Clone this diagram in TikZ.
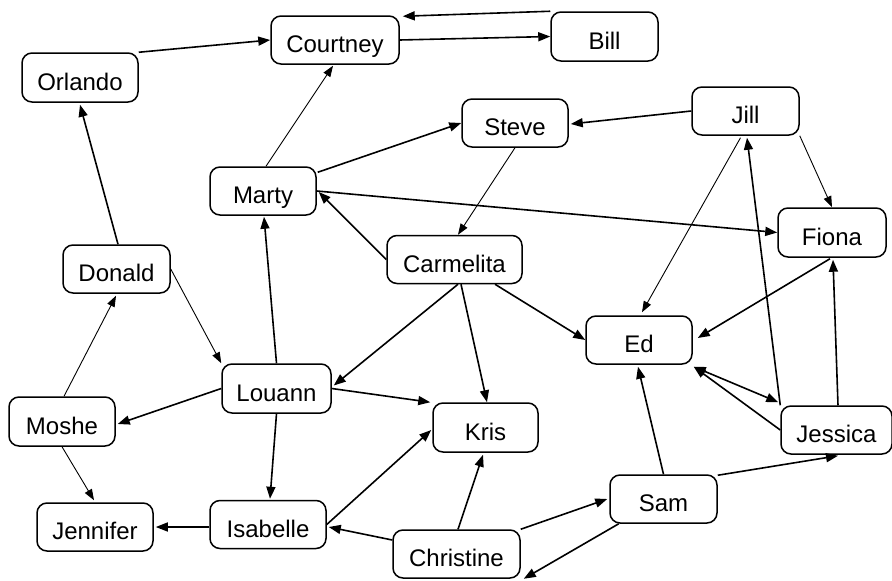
\documentclass[tikz,border=0pt]{standalone}
\usepackage{fontspec}
\setmainfont{Liberation Sans}
\usetikzlibrary{arrows.meta}
\tikzset{
  pbox/.style={draw, rounded corners=10pt, line width=1.5pt, inner sep=0pt,
    minimum height=48pt, text height=25pt, text depth=0pt,
    font=\fontsize{24}{24}\selectfont},
  thk/.style={line width=1.6pt, -{Triangle[length=12pt,width=9pt]}},
  thn/.style={line width=0.9pt, -{Triangle[length=11pt,width=8pt]}},
  dbl/.style={line width=1.6pt, {Triangle[length=12pt,width=9pt]}-{Triangle[length=12pt,width=9pt]}}
}
\begin{document}
\begin{tikzpicture}[x=1pt,y=-1pt]
\useasboundingbox (0,0) rectangle (892,581);
\node[pbox, minimum width=128pt] (cou) at (335,40) {Courtney};
\node[pbox, minimum width=107pt, minimum height=49pt] (bil) at (604.5,36.5) {Bill};
\node[pbox, minimum width=116pt, minimum height=49pt] (orl) at (80,77.5) {Orlando};
\node[pbox, minimum width=106pt] (mar) at (263,191) {Marty};
\node[pbox, minimum width=107pt] (don) at (116.5,269) {Donald};
\node[pbox, minimum width=106pt] (ste) at (515,123) {Steve};
\node[pbox, minimum width=107pt] (jil) at (745.5,111) {Jill};
\node[pbox, minimum width=108pt, minimum height=49pt] (fio) at (832,232.5) {Fiona};
\node[pbox, minimum width=135pt] (car) at (454.5,259.5) {Carmelita};
\node[pbox, minimum width=109pt, minimum height=49pt] (lou) at (276.5,388.5) {Louann};
\node[pbox, minimum width=106pt, minimum height=49pt] (mos) at (62,421.5) {Moshe};
\node[pbox, minimum width=116pt] (jen) at (95,527) {Jennifer};
\node[pbox, minimum width=116pt] (isa) at (268,524.5) {Isabelle};
\node[pbox, minimum width=105pt, minimum height=49pt] (kri) at (485.5,427.5) {Kris};
\node[pbox, minimum width=127pt] (chr) at (456.5,554) {Christine};
\node[pbox, minimum width=106pt] (ed) at (639,340) {Ed};
\node[pbox, minimum width=107pt] (sam) at (663.5,499) {Sam};
\node[pbox, minimum width=111pt] (jes) at (836.5,430) {Jessica};

\draw[thk] (orl.north east) -- (cou.west);
\draw[thk] (bil.north west) -- ([shift={(3,1)}]cou.north east);
\draw[thk] (cou.east) -- (bil.west);
\draw[thn] ([shift={(3,0)}]mar.north) -- ([shift={(-2,1)}]cou.south);
\draw[thk] ([shift={(1,6)}]mar.north east) -- (ste.west);
\draw[thk] (jil.west) -- ([shift={(2,1)}]ste.east);
\draw[thn] (ste.south) -- ([shift={(3.5,0)}]car.north);
\draw[thk] (car.west) -- ([shift={(2,1)}]mar.east);
\draw[thk] (mar.east) -- (fio.west);
\draw[thn] (jil.south east) -- (fio.north);
\draw[thn] ([shift={(-5,2)}]jil.south) -- ([shift={(3,-3)}]ed.north);
\draw[thk] (jes.north west) -- ([shift={(1.5,2)}]jil.south);
\draw[thk] ([shift={(1.5,0)}]jes.north) -- ([shift={(1,2)}]fio.south);
\draw[thk] ([shift={(-2,1)}]fio.south) -- ([shift={(5,-2)}]ed.east);
\draw[dbl] ([shift={(1,2)}]ed.south east) -- ([shift={(-2,-3)}]jes.north west);
\draw[thk] (jes.west) -- ([shift={(1,2)}]ed.south east);
\draw[thk] ([shift={(40.5,0)}]car.south) -- (ed.west);
\draw[thk] ([shift={(3.5,0)}]car.south) -- ([shift={(2,-3)}]lou.east);
\draw[thk] ([shift={(6.5,0)}]car.south) -- ([shift={(1.5,0)}]kri.north);
\draw[thk] (sam.north) -- ([shift={(-1,2)}]ed.south);
\draw[thk] ([shift={(0,1)}]sam.north east) -- ([shift={(1.5,1)}]jes.south);
\draw[thk] ([shift={(9.5,0)}]sam.south west) -- ([shift={(3,0)}]chr.south east);
\draw[thk] (chr.north east) -- ([shift={(-2,0)}]sam.west);
\draw[thk] ([shift={(1.5,0)}]chr.north) -- ([shift={(-2.5,2)}]kri.south);
\draw[thk] ([shift={(0,-14)}]chr.west) -- ([shift={(2,2.5)}]isa.east);
\draw[thk] (isa.east) -- ([shift={(-1,2.5)}]kri.west);
\draw[thk] (lou.east) -- ([shift={(-2,0)}]kri.north west);
\draw[thk] (lou.south) -- ([shift={(2,-1)}]isa.north);
\draw[thk] (lou.north) -- ([shift={(1,1)}]mar.south);
\draw[thk] (lou.west) -- ([shift={(2,2.5)}]mos.east);
\draw[thn] (don.east) -- (lou.north west);
\draw[thk] ([shift={(1.5,0)}]don.north) -- ([shift={(0,2)}]orl.south);
\draw[thn] ([shift={(2,0)}]mos.north) -- ([shift={(-0.5,2)}]don.south);
\draw[thn] (mos.south) -- ([shift={(-1,-2)}]jen.north);
\draw[thk] ([shift={(0,2.5)}]isa.west) -- ([shift={(2,0)}]jen.east);
\end{tikzpicture}
\end{document}
